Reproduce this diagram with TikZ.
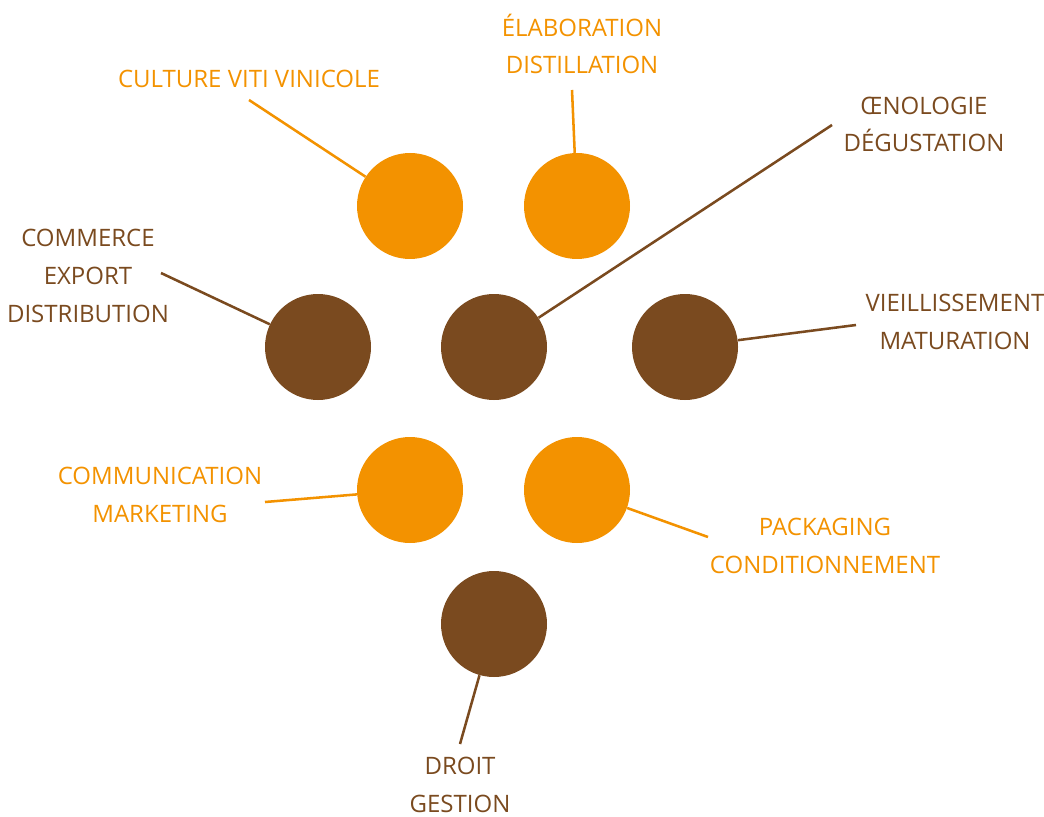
\documentclass[tikz,border=0pt]{standalone}
\usepackage{fontspec}
\setmainfont{Open Sans}
\definecolor{vinorange}{HTML}{F39200}
\definecolor{vinbrown}{HTML}{7A4A1F}
\begin{document}
\begin{tikzpicture}[x=0.75pt,y=-0.75pt,
  dot/.style={circle,inner sep=0pt,minimum size=79.5pt},
  odot/.style={dot,fill=vinorange},
  bdot/.style={dot,fill=vinbrown},
  lab/.style={align=center,anchor=base,inner sep=0pt,font=\fontsize{18}{28.2}\selectfont},
  olab/.style={lab,text=vinorange},
  blab/.style={lab,text=vinbrown},
  olink/.style={draw=vinorange,line width=1.9pt},
  blink/.style={draw=vinbrown,line width=1.9pt}]
\useasboundingbox (0,0) rectangle (1044,816);

% circles
\node[odot] (cult) at (410,206) {};
\node[odot] (elab) at (577,206) {};
\node[bdot] (comm) at (318,347) {};
\node[bdot] (oeno) at (494,347) {};
\node[bdot] (vieil) at (685,347) {};
\node[odot] (mark) at (410,490) {};
\node[odot] (pack) at (577,490) {};
\node[bdot] (droit) at (494,624) {};

% labels (anchored at the baseline of their last line)
\node[olab] (tcult) at (249,88) {CULTURE VITI VINICOLE};
\node[olab] (telab) at (582,74) {ÉLABORATION\\DISTILLATION};
\node[blab] (toeno) at (924,152) {ŒNOLOGIE\\DÉGUSTATION};
\node[blab] (tcomm) at (88,322) {COMMERCE\\EXPORT\\DISTRIBUTION};
\node[blab] (tvieil) at (955,349) {VIEILLISSEMENT\\MATURATION};
\node[olab] (tmark) at (160,522) {COMMUNICATION\\MARKETING};
\node[olab] (tpack) at (825,573) {PACKAGING\\CONDITIONNEMENT};
\node[blab] (tdroit) at (460,812) {DROIT\\GESTION};

% free ends of the connectors
\coordinate (ecult) at (249,100);
\coordinate (eelab) at (572,90);
\coordinate (eoeno) at (832,125);
\coordinate (ecomm) at (161,273);
\coordinate (evieil) at (856,325);
\coordinate (emark) at (265,502);
\coordinate (epack) at (708,537);
\coordinate (edroit) at (460,744);

% connectors
\draw[olink] (ecult) -- (cult);
\draw[olink] (eelab) -- (elab);
\draw[blink] (eoeno) -- (oeno);
\draw[blink] (ecomm) -- (comm);
\draw[blink] (evieil) -- (vieil);
\draw[olink] (emark) -- (mark);
\draw[olink] (epack) -- (pack);
\draw[blink] (edroit) -- (droit);
\end{tikzpicture}
\end{document}
